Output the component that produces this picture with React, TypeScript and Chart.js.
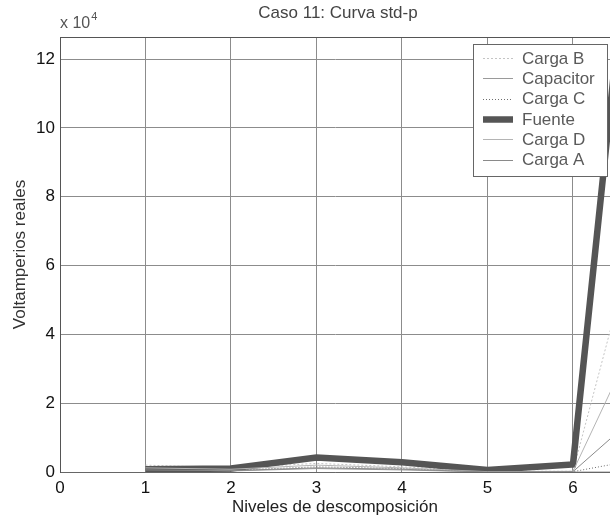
import React, { useEffect, useRef } from "react";
import { Chart, registerables } from "chart.js";

Chart.register(...registerables);

// Data (y values in units of 10^4 volt-amperes)
const levels = [1, 2, 3, 4, 5, 6, 7];
const cargaB = [0.2, 0.12, 0.25, 0.15, 0.02, 0.02, 9.4];
const capacitor = [0.05, 0.03, 0.1, 0.06, 0.0, 0.0, 0.0];
const cargaC = [0.08, 0.05, 0.15, 0.1, 0.01, 0.01, 0.47];
const fuente = [0.08, 0.1, 0.42, 0.28, 0.06, 0.22, 24];
const cargaD = [0.12, 0.08, 0.2, 0.12, 0.01, 0.02, 5.3];
const cargaA = [0.06, 0.04, 0.12, 0.08, 0.0, 0.01, 2.2];

const seriesNames = ["Carga B", "Capacitor", "Carga C", "Fuente", "Carga D", "Carga A"];
const seriesValues = [cargaB, capacitor, cargaC, fuente, cargaD, cargaA];
const seriesColors = ["#c4c4c4", "#9a9a9a", "#6e6e6e", "#555555", "#b4b4b4", "#8a8a8a"];
const seriesWidths = [1, 1, 1, 6.5, 1, 1];
const seriesDashes: number[][] = [[2, 2], [], [1, 2], [], [], []];

const xTicks = [0, 1, 2, 3, 4, 5, 6];
const yTicks = [0, 2, 4, 6, 8, 10, 12];
const xMin = 0;
const xMax = 6.433;
const yMin = 0;
const yMax = 12.64;

const titleText = "Caso 11: Curva std-p";
const xTitle = "Niveles de descomposición";
const yTitle = "Voltamperios reales";
const FONT = '"Liberation Sans", Arial, sans-serif';

const decorPlugin = {
  id: "decor",
  afterDraw(chart: any) {
    const ctx = chart.ctx;
    const ca = chart.chartArea;
    ctx.save();
    // top border of the axes box
    ctx.strokeStyle = "#555";
    ctx.lineWidth = 1;
    ctx.beginPath();
    ctx.moveTo(ca.left, ca.top + 0.5);
    ctx.lineTo(ca.right, ca.top + 0.5);
    ctx.stroke();

    // title
    ctx.fillStyle = "#444";
    ctx.font = `17px ${FONT}`;
    ctx.textAlign = "center";
    ctx.textBaseline = "middle";
    ctx.fillText(titleText, 338, 13);

    // exponent label
    ctx.textAlign = "left";
    ctx.textBaseline = "alphabetic";
    ctx.font = `16px ${FONT}`;
    ctx.fillStyle = "#555";
    const base = "x 10";
    ctx.fillText(base, 60, 28);
    const w = ctx.measureText(base).width;
    ctx.font = `11px ${FONT}`;
    ctx.fillText("4", 60 + w + 1, 20);

    // legend
    const lx = 473.5, ly = 44.5, lw = 134, lh = 132;
    ctx.fillStyle = "#fff";
    ctx.fillRect(lx, ly, lw, lh);
    ctx.strokeStyle = "#666";
    ctx.lineWidth = 1;
    ctx.strokeRect(lx, ly, lw, lh);
    chart.data.datasets.forEach((ds: any, i: number) => {
      const y = 58 + i * 20.3;
      ctx.save();
      ctx.strokeStyle = ds.borderColor;
      ctx.lineWidth = ds.borderWidth;
      ctx.setLineDash(ds.borderDash || []);
      ctx.beginPath();
      ctx.moveTo(483, Math.round(y) + 0.5);
      ctx.lineTo(513, Math.round(y) + 0.5);
      ctx.stroke();
      ctx.restore();
      ctx.fillStyle = "#5a5a5a";
      ctx.font = `17px ${FONT}`;
      ctx.textAlign = "left";
      ctx.textBaseline = "middle";
      ctx.fillText(ds.label, 522, y + 1);
    });
    ctx.restore();
  },
};

export default function App() {
  const ref = useRef<HTMLCanvasElement | null>(null);
  useEffect(() => {
    if (!ref.current) return;
    const datasets = seriesNames.map((name, i) => ({
      label: name,
      data: levels.map((x, j) => ({ x, y: seriesValues[i][j] })),
      borderColor: seriesColors[i],
      backgroundColor: seriesColors[i],
      borderWidth: seriesWidths[i],
      borderDash: seriesDashes[i],
      pointRadius: 0,
      tension: 0,
      fill: false,
      order: seriesNames.length - i,
    }));
    const chart = new Chart(ref.current, {
      type: "line",
      data: { datasets },
      options: {
        animation: false,
        responsive: false,
        devicePixelRatio: 1,
        layout: { padding: { top: 37, left: 0, right: 0, bottom: 0 } },
        plugins: {
          legend: { display: false },
          tooltip: { enabled: false },
          title: { display: false },
        },
        scales: {
          x: {
            type: "linear",
            min: xMin,
            max: xMax,
            afterBuildTicks: (s: any) => {
              s.ticks = xTicks.map((v) => ({ value: v }));
            },
            afterFit: (s: any) => {
              s.height = 47;
            },
            ticks: {
              font: { family: FONT, size: 17 },
              color: "#111",
              padding: 6,
              maxRotation: 0,
              autoSkip: false,
            },
            grid: { color: "#8c8c8c", lineWidth: 1, drawTicks: false },
            border: { color: "#666", width: 1 },
            title: {
              display: true,
              text: xTitle,
              font: { family: FONT, size: 17 },
              color: "#222",
              padding: { top: 0, bottom: 1 },
            },
          },
          y: {
            type: "linear",
            min: yMin,
            max: yMax,
            afterBuildTicks: (s: any) => {
              s.ticks = yTicks.map((v) => ({ value: v }));
            },
            afterFit: (s: any) => {
              s.width = 60;
            },
            ticks: {
              font: { family: FONT, size: 17 },
              color: "#111",
              padding: 5,
            },
            grid: { color: "#8c8c8c", lineWidth: 1, drawTicks: false },
            border: { color: "#555", width: 1 },
            title: {
              display: true,
              text: yTitle,
              font: { family: FONT, size: 17 },
              color: "#333",
              padding: { top: 10, bottom: 0 },
            },
          },
        },
      },
      plugins: [decorPlugin],
    });
    return () => chart.destroy();
  }, []);
  return (
    <div
      style={{
        position: "fixed",
        left: 0,
        top: 0,
        width: 610,
        height: 519,
        background: "#fff",
        overflow: "hidden",
      }}
    >
      <canvas ref={ref} width={610} height={519} style={{ display: "block" }} />
    </div>
  );
}
